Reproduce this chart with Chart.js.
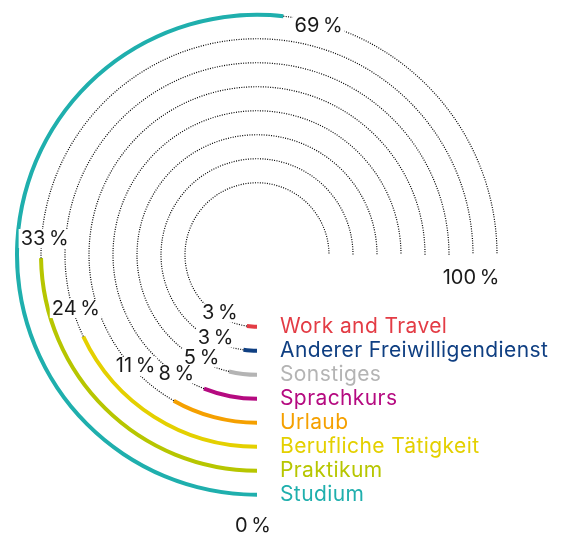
<!DOCTYPE html>
<html>
<head>
<meta charset="utf-8">
<script src="https://cdn.jsdelivr.net/npm/chart.js@4.4.0/dist/chart.umd.min.js"></script>
<style>
  html, body { margin: 0; padding: 0; background: #fff; }
  #wrap { width: 564px; height: 533px; }
</style>
</head>
<body>
<div id="wrap"><canvas id="chart" width="564" height="533"></canvas></div>
<script>
// Werte von außen nach innen
const categories = ['Studium', 'Praktikum', 'Berufliche Tätigkeit', 'Urlaub', 'Sprachkurs', 'Sonstiges', 'Anderer Freiwilligendienst', 'Work and Travel'];
const shares = [69, 33, 24, 11, 8, 5, 3, 3];
const colors = ['#1fafad', '#b7c600', '#e4d000', '#f5a000', '#b50a80', '#b4b4b4', '#0f3f82', '#e33c45'];
const axisLabels = ['0\u2009%', '100\u2009%'];
const maxValue = 100;

const VALUE_FONT = '20px Inter';
const LEGEND_FONT = '21px Inter';
const ringWidth = 4;
const ringGap = 20;

// Ringe + transparente Abstandshalter
const datasets = [];
const ringIndexes = [];
categories.forEach((name, i) => {
    ringIndexes.push(datasets.length);
    datasets.push({
        label: name,
        data: [shares[i], maxValue - shares[i]],
        backgroundColor: [colors[i], 'rgba(0,0,0,0)'],
        borderWidth: 0,
        weight: ringWidth,
    });
    if (i < categories.length - 1) {
        datasets.push({
            label: '',
            data: [maxValue],
            backgroundColor: 'rgba(0,0,0,0)',
            borderWidth: 0,
            weight: ringGap,
        });
    }
});

const pct = (v) => v + '\u2009%';

const overlaps = (a, b) =>
    a.x1 < b.x2 + 3 && a.x2 + 3 > b.x1 && a.y1 < b.y2 + 1 && a.y2 + 1 > b.y1;

const ringPlugin = {
    id: 'ringLabels',
    afterDatasetsDraw(chart) {
        const ctx = chart.ctx;
        ctx.save();

        // gepunktete Spuren bis 100 %
        ringIndexes.forEach((dsIndex) => {
            const rest = chart.getDatasetMeta(dsIndex).data[1];
            const p = rest.getProps(['x', 'y', 'startAngle', 'endAngle', 'innerRadius', 'outerRadius'], true);
            const r = (p.innerRadius + p.outerRadius) / 2;
            ctx.beginPath();
            ctx.setLineDash([1, 1.4]);
            ctx.strokeStyle = '#000';
            ctx.lineWidth = 1.2;
            ctx.arc(p.x, p.y, r, p.startAngle, p.endAngle);
            ctx.stroke();
        });
        ctx.setLineDash([]);

        ctx.textBaseline = 'middle';

        // Legende am Anfang jedes Bogens
        ringIndexes.forEach((dsIndex, i) => {
            const p = chart.getDatasetMeta(dsIndex).data[0].getProps(['x', 'y', 'startAngle', 'innerRadius', 'outerRadius'], true);
            const r = (p.innerRadius + p.outerRadius) / 2;
            ctx.font = LEGEND_FONT;
            ctx.letterSpacing = '0.4px';
            ctx.textAlign = 'left';
            ctx.fillStyle = colors[i];
            ctx.fillText(categories[i], p.x + r * Math.cos(p.startAngle) + 23, p.y + r * Math.sin(p.startAngle));
        });

        // Werte am Ende jedes Bogens, von innen nach außen, ohne Überlappung
        ctx.font = VALUE_FONT;
        ctx.letterSpacing = '0px';
        ctx.textAlign = 'center';
        const placed = [];
        ringIndexes.slice().reverse().forEach((dsIndex, k) => {
            const i = ringIndexes.length - 1 - k;
            const p = chart.getDatasetMeta(dsIndex).data[0].getProps(['x', 'y', 'endAngle', 'innerRadius', 'outerRadius'], true);
            const r = (p.innerRadius + p.outerRadius) / 2;
            const text = pct(shares[i]);
            const w = ctx.measureText(text).width;
            const h = 15;
            const ext = Math.abs(Math.sin(p.endAngle)) * w / 2 + Math.abs(Math.cos(p.endAngle)) * h / 2;
            const a0 = p.endAngle + (12 + ext) / r;
            const boxAt = (rad, a) => {
                const lx = p.x + rad * Math.cos(a);
                const ly = p.y + rad * Math.sin(a);
                return { x: lx, y: ly, x1: lx - w / 2, x2: lx + w / 2, y1: ly - h / 2, y2: ly + h / 2 };
            };
            const free = (b) => !placed.some((q) => overlaps(b, q));
            let box = boxAt(r - 3, a0);
            for (let n = 1; n < 200 && !free(box); n++) {
                const outward = boxAt(r - 3 + n, a0);
                const along = boxAt(r - 3, a0 + n / r);
                box = n <= 6 && free(outward) ? outward : along;
            }
            placed.push(box);
            ctx.fillStyle = '#fff';
            ctx.fillRect(box.x1 - 2, box.y1 - 2, w + 4, h + 4);
            ctx.fillStyle = '#1a1a1a';
            ctx.fillText(text, box.x, box.y);
        });

        // 0 % unten, 100 % rechts
        const o = chart.getDatasetMeta(ringIndexes[0]).data[0].getProps(['x', 'y', 'outerRadius'], true);
        ctx.fillStyle = '#1a1a1a';
        ctx.fillText(axisLabels[0], o.x - 4, o.y + o.outerRadius + 29);
        ctx.fillText(axisLabels[1], o.x + o.outerRadius - 28, o.y + 23);

        ctx.restore();
    },
};

new Chart(document.getElementById('chart'), {
    type: 'doughnut',
    data: {
        labels: ['Anteil', 'Rest'],
        datasets: datasets,
    },
    options: {
        responsive: false,
        animation: false,
        devicePixelRatio: 1,
        rotation: 180,
        circumference: 270,
        cutout: 70,
        layout: { padding: { left: 15, right: 65, top: 12.5, bottom: 36 } },
        plugins: {
            legend: { display: false },
            tooltip: { enabled: false },
        },
        events: [],
    },
    plugins: [ringPlugin],
});
</script>
</body>
</html>
